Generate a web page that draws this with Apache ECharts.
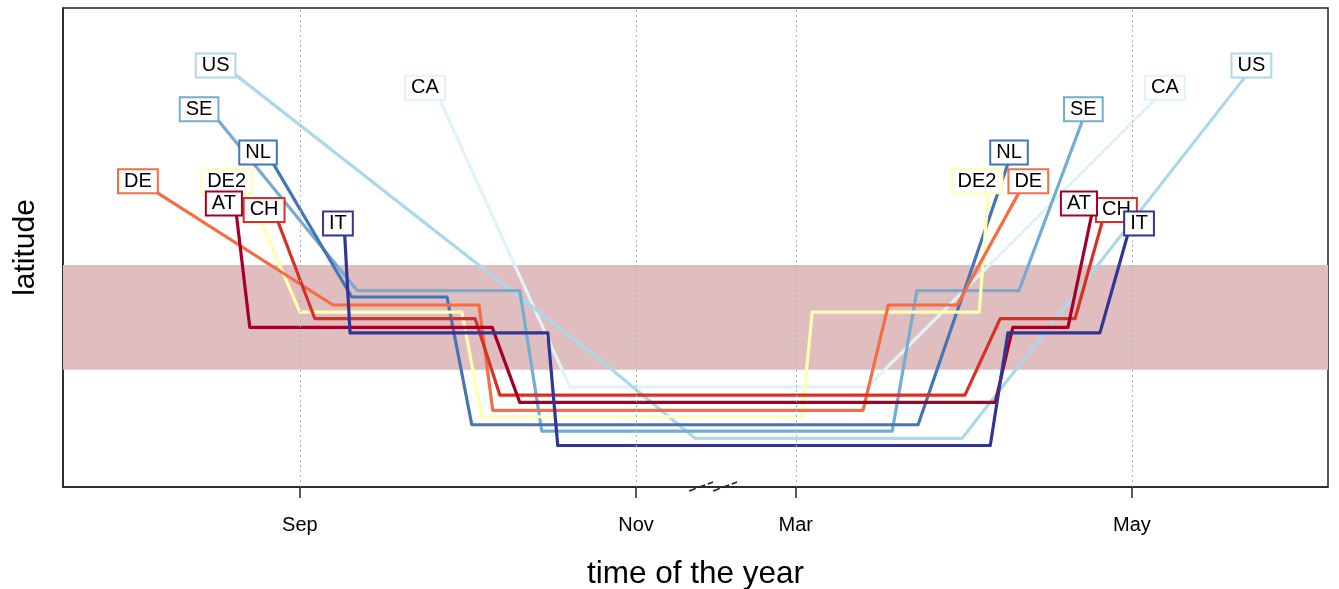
<!DOCTYPE html>
<html>
<head>
<meta charset="utf-8">
<script src="https://cdn.jsdelivr.net/npm/echarts@6/dist/echarts.min.js"></script>
<style>
  html, body { margin: 0; padding: 0; background: #fff; }
  #chart { width: 1339px; height: 589px; }
</style>
</head>
<body>
<div id="chart"></div>
<script>
// ---- data (x: days from 1 Sep, with compressed winter; y: latitude units) ----
const tickValues = [0, 61, 90, 151];
const tickNames = ['Sep', 'Nov', 'Mar', 'May'];
const bandLat = [14.7, 27.8];
const axisBreakAt = 75;

const countries = ['CA', 'US', 'SE', 'NL', 'DE2', 'DE', 'CH', 'AT', 'IT'];
const breedLat   = [50.2, 53.0, 47.5, 42.1, 38.5, 38.5, 34.9, 35.7, 33.2];
const labelLeftX = [22.7, -15.3, -18.3, -7.6, -13.3, -29.4, -6.5, -13.8, 6.9];
const labelRightX = [157.0, 172.7, 142.2, 128.7, 122.9, 132.2, 148.2, 141.4, 152.3];

const pathCA  = [[24.3, 50.2], [49.0, 12.5], [103.0, 12.5], [157.6, 50.2]];
const pathUS  = [[-14.2, 53.0], [54.5, 15.9], [71.7, 6.1], [120.2, 6.1], [173.4, 53.0]];
const pathSE  = [[-16.7, 47.5], [10.4, 24.6], [39.9, 24.6], [43.9, 7.0], [107.5, 7.0], [112.0, 24.6], [130.5, 24.6], [142.9, 47.5]];
const pathNL  = [[-6.2, 42.1], [9.4, 23.8], [26.7, 23.8], [31.2, 7.8], [112.2, 7.8], [129.3, 42.1]];
const pathDE2 = [[-10.4, 38.5], [0.0, 21.9], [29.4, 21.9], [33.0, 8.8], [91.1, 8.8], [93.0, 21.9], [123.3, 21.9], [125.1, 38.5]];
const pathDE  = [[-29.6, 38.5], [6.0, 22.8], [32.5, 22.8], [35.0, 9.6], [102.2, 9.6], [106.8, 22.8], [119.3, 22.8], [131.8, 38.5]];
const pathCH  = [[-4.9, 34.9], [2.7, 21.1], [31.8, 21.1], [36.3, 11.5], [120.7, 11.5], [127.1, 21.1], [140.7, 21.1], [146.3, 34.9]];
const pathAT  = [[-11.8, 35.7], [-9.1, 20.0], [34.9, 20.0], [39.9, 10.6], [126.2, 10.6], [129.4, 20.0], [139.4, 20.0], [144.2, 35.7]];
const pathIT  = [[8.0, 33.2], [9.1, 19.3], [45.0, 19.3], [46.8, 5.2], [125.3, 5.2], [128.5, 19.3], [145.2, 19.3], [150.9, 33.2]];

// ---- styles ----
const palette = ['#e0f3f8', '#abd9e9', '#74add1', '#4575b4', '#ffffb2', '#f46d43', '#d73027', '#a50026', '#313695'];
const paths = [pathCA, pathUS, pathSE, pathNL, pathDE2, pathDE, pathCH, pathAT, pathIT];
const FONT = "'Liberation Sans', Arial, sans-serif";

const chart = echarts.init(document.getElementById('chart'), null, { renderer: 'canvas' });

const series = [];
series.push({
  type: 'line', data: [], z: 1, silent: true,
  markArea: {
    silent: true,
    itemStyle: { color: '#e0bec0', opacity: 1 },
    data: [[{ yAxis: bandLat[0] }, { yAxis: bandLat[1] }]]
  }
});
series.push({
  type: 'line', data: [], z: 2, silent: true,
  markLine: {
    silent: true, symbol: ['none', 'none'], label: { show: false },
    lineStyle: { type: [2, 3], color: '#b0b0b0', width: 1 },
    emphasis: { disabled: true },
    data: tickValues.map(v => ({ xAxis: v }))
  }
});
countries.forEach((c, i) => {
  series.push({
    type: 'line', name: c, data: paths[i], z: 3 + i * 0.01,
    showSymbol: false, symbol: 'none', silent: true,
    lineStyle: { color: palette[i], width: 3.2, cap: 'round', join: 'round' }
  });
});
const labelData = [];
countries.forEach((c, i) => {
  labelData.push({ name: c, value: [labelLeftX[i], breedLat[i]], label: { borderColor: palette[i] } });
  labelData.push({ name: c, value: [labelRightX[i], breedLat[i]], label: { borderColor: palette[i] } });
});
series.push({
  type: 'scatter', z: 10, silent: true, symbolSize: 0,
  itemStyle: { opacity: 1 },
  data: labelData,
  label: {
    show: true, position: 'inside', formatter: p => p.name, offset: [0, 1.5],
    fontFamily: FONT, fontSize: 20, color: '#000', lineHeight: 20,
    backgroundColor: '#fff', borderWidth: 2, padding: [2, 5, 0, 5]
  }
});

chart.setOption({
  animation: false,
  grid: {
    left: 63, right: 11, top: 8, bottom: 102, show: true,
    borderColor: '#222', borderWidth: 1.5, backgroundColor: '#fff',
    containLabel: false, outerBoundsMode: 'none'
  },
  xAxis: {
    type: 'value', min: -43, max: 186.6,
    name: 'time of the year', nameLocation: 'middle', nameGap: 71,
    nameTextStyle: { fontFamily: FONT, fontSize: 31.5, color: '#000' },
    axisLine: { show: true, onZero: false, lineStyle: { color: '#222', width: 1.5 } },
    axisTick: { show: true, customValues: tickValues, length: 11, lineStyle: { color: '#222', width: 1.5 } },
    axisLabel: {
      show: true, customValues: tickValues, margin: 28,
      formatter: v => tickNames[tickValues.indexOf(v)] || '',
      fontFamily: FONT, fontSize: 20, color: '#000'
    },
    splitLine: { show: false }
  },
  yAxis: {
    type: 'value', min: 0, max: 60,
    name: 'latitude', nameLocation: 'middle', nameGap: 22, nameRotate: 90,
    nameTextStyle: { fontFamily: FONT, fontSize: 30, color: '#000' },
    axisLine: { show: true, onZero: false, lineStyle: { color: '#222', width: 1.5 } },
    axisTick: { show: false }, axisLabel: { show: false }, splitLine: { show: false }
  },
  series: series
});

// axis-break marks on the x axis
const p = chart.convertToPixel({ gridIndex: 0 }, [axisBreakAt, 0]);
const bx = p[0], by = p[1];
chart.setOption({
  graphic: [
    { type: 'line', z: 100, shape: { x1: bx - 24, y1: by + 4, x2: bx, y2: by - 5 }, style: { stroke: '#222', lineWidth: 1.5, lineDash: [7, 3] } },
    { type: 'line', z: 100, shape: { x1: bx, y1: by + 4, x2: bx + 24, y2: by - 5 }, style: { stroke: '#222', lineWidth: 1.5, lineDash: [7, 3] } }
  ]
});
</script>
</body>
</html>
